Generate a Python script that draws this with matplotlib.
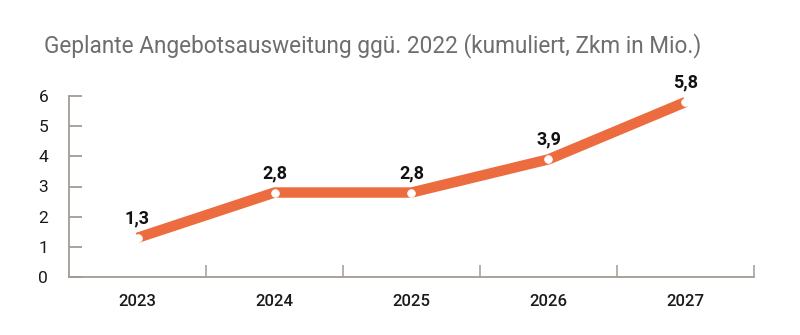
import matplotlib
matplotlib.use("Agg")
import matplotlib.pyplot as plt
from matplotlib.ticker import FixedLocator

plt.rcParams['font.family'] = ['Roboto', 'DejaVu Sans']

# Kumulierte Angebotsausweitung in Mio. Zugkilometern
years = ["2023", "2024", "2025", "2026", "2027"]
values = [1.3, 2.8, 2.8, 3.9, 5.8]
value_labels = ["1,3", "2,8", "2,8", "3,9", "5,8"]
y_ticks = [0, 1, 2, 3, 4, 5, 6]

title = "Geplante Angebotsausweitung ggü. 2022 (kumuliert, Zkm in Mio.)"

line_color = "#EC6B3F"
axis_color = "#A39A93"

fig = plt.figure(figsize=(8.0, 3.35), dpi=100)
ax = fig.add_axes([69 / 800, 1 - 277 / 335, (754 - 69) / 800, (277 - 96) / 335])

x = list(range(len(years)))
ax.plot(x, values, color=line_color, lw=7.5, solid_capstyle="butt",
        solid_joinstyle="round", zorder=3)
ax.plot(x, values, ls="none", marker="o", ms=5.5, mfc="white",
        mec="white", mew=0.6, zorder=4)

for xi, v, lab in zip(x, values, value_labels):
    ax.annotate(lab, (xi, v), xytext=(0, 14), textcoords="offset points",
                ha="center", va="center", fontsize=13, fontweight="bold",
                color="#111111")

ax.set_xlim(-0.5, len(years) - 0.5)
ax.set_ylim(0, 6)

ax.set_yticks(y_ticks)
ax.set_yticklabels([str(t) for t in y_ticks])
ax.set_xticks(x)
ax.set_xticklabels(years)
ax.xaxis.set_minor_locator(FixedLocator([i + 0.5 for i in range(len(years))]))

for side in ("top", "right"):
    ax.spines[side].set_visible(False)
for side in ("left", "bottom"):
    ax.spines[side].set_color(axis_color)
    ax.spines[side].set_linewidth(1.3)

ax.tick_params(axis="y", direction="in", length=9.5, width=1.3,
               color=axis_color, pad=15, labelsize=12.5, labelcolor="#1a1a1a")
ax.tick_params(axis="x", which="major", length=0, pad=12,
               labelsize=12, labelcolor="#1a1a1a")
ax.tick_params(axis="x", which="minor", direction="in", length=9,
               width=1.1, color=axis_color)
for lab in ax.get_xticklabels():
    lab.set_fontweight("medium")

fig.text(44 / 800, 1 - 46 / 335, title, ha="left", va="center",
         fontsize=16.3, color="#6E6E6E")

fig.savefig("out.png", dpi=100, facecolor="white")
